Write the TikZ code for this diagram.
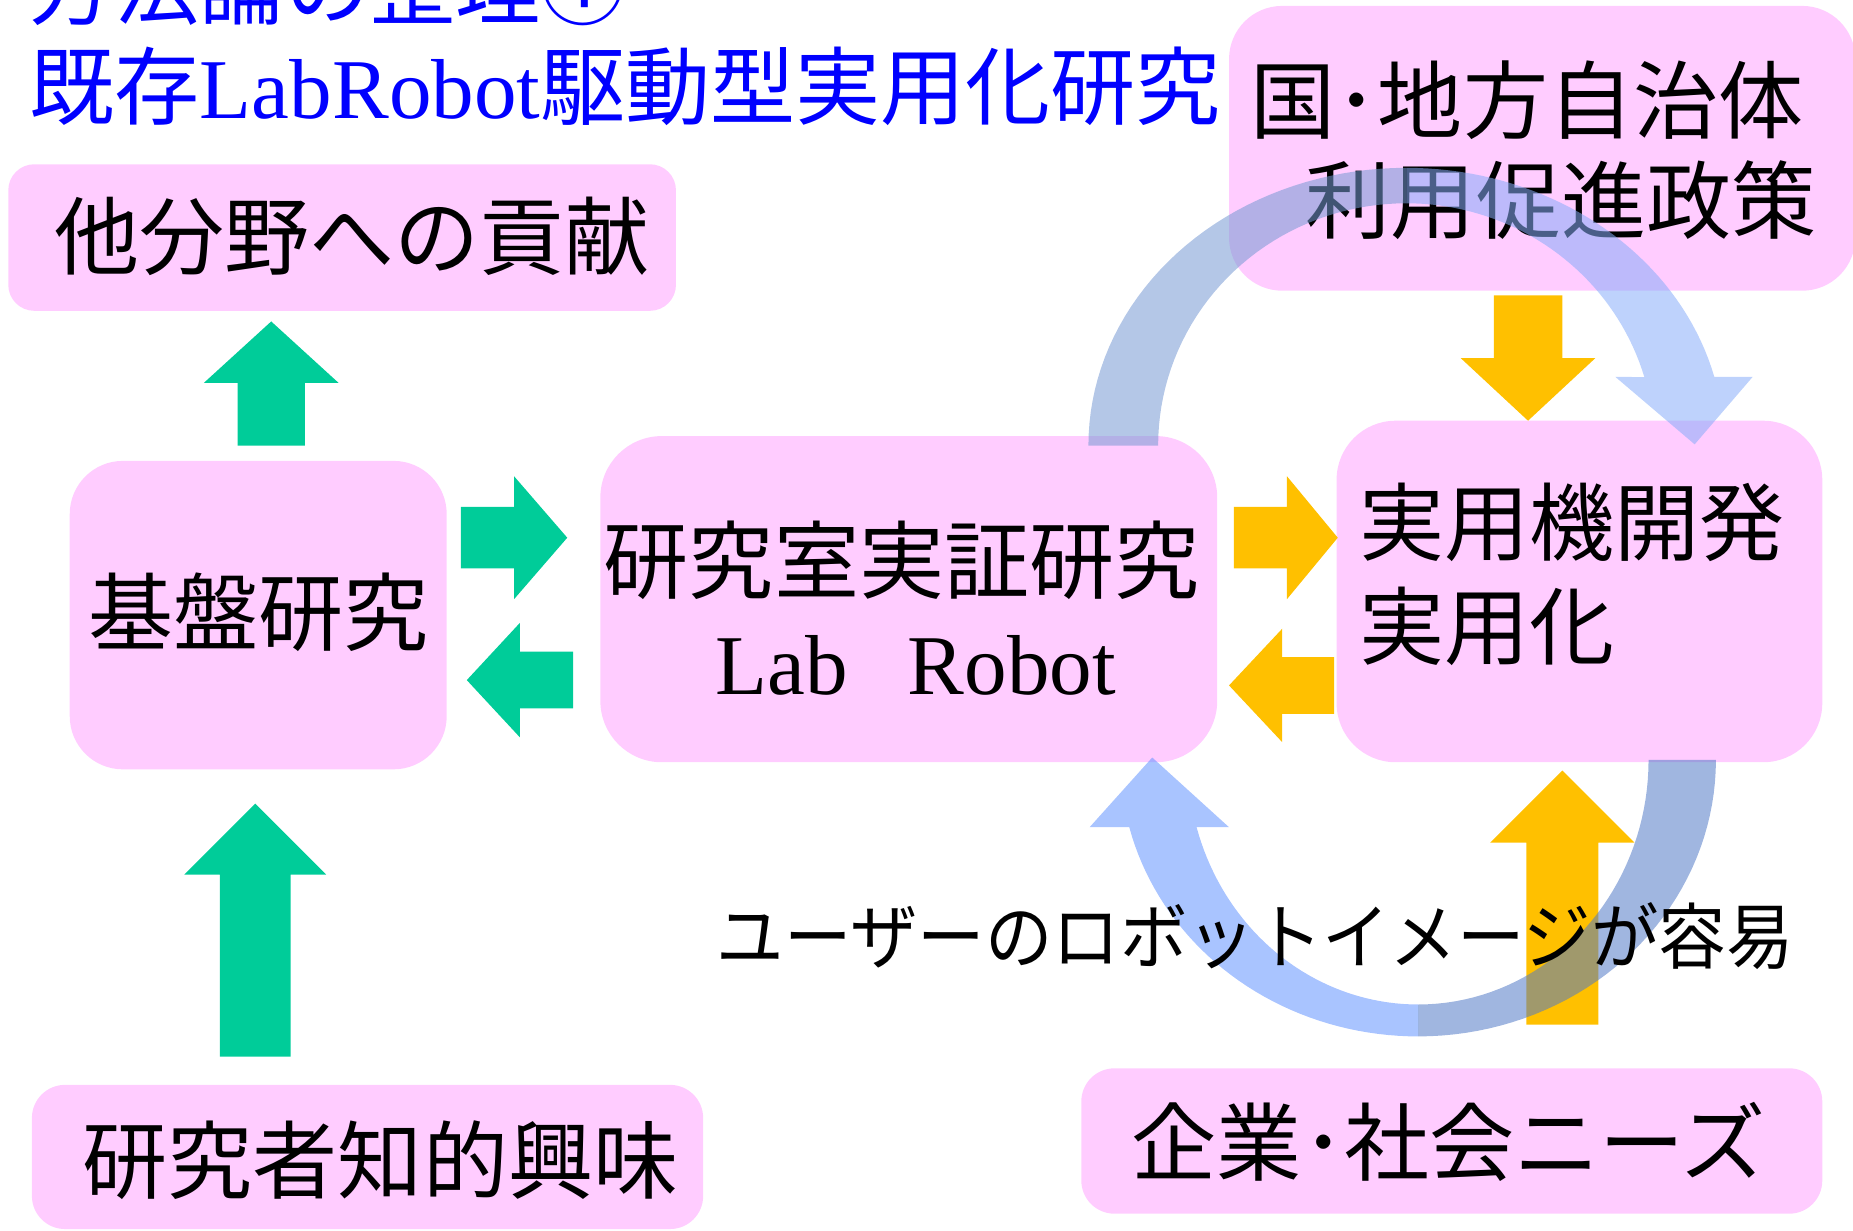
\documentclass[tikz,border=0pt]{standalone}
\usepackage{fontspec}
\usepackage{graphicx}
\usetikzlibrary{calc}
\newfontfamily\jpfont{Noto Sans CJK JP}
\newfontfamily\tmsfont{Liberation Serif}
\definecolor{boxpink}{RGB}{255,204,255}
\definecolor{grn}{RGB}{0,204,153}
\definecolor{org}{RGB}{255,192,0}
\definecolor{arcTL}{RGB}{118,153,211}
\definecolor{arcTR}{RGB}{136,173,249}
\definecolor{arcBL}{RGB}{98,147,255}
\definecolor{arcBR}{RGB}{82,122,198}
\definecolor{ttlblue}{RGB}{0,0,255}
% block arrow: colour, tail, tip, half shaft, half head, head length
\newcommand{\blockarr}[6]{%
  \fill[#1] ($(#2)!#4!90:(#3)$) -- ($(#3)!#6!(#2)!#4!-90:(#2)$)
    -- ($(#3)!#6!(#2)!#5!-90:(#2)$) -- (#3)
    -- ($(#3)!#6!(#2)!#5!90:(#2)$) -- ($(#3)!#6!(#2)!#4!90:(#2)$)
    -- ($(#2)!#4!-90:(#3)$) -- cycle;}
\begin{document}
\begin{tikzpicture}[x=1pt,y=-1pt,
  pinkbox/.style={rectangle, fill=boxpink, draw=none, inner sep=0pt},
  jtxt/.style={inner sep=0pt, anchor=base, font=\jpfont\fontsize{72pt}{86pt}\selectfont},
  ttl/.style={inner sep=0pt, anchor=base west, text=ttlblue, font=\jpfont\fontsize{72pt}{86pt}\selectfont},
  arcfill/.style={fill opacity=0.55}]
\clip (0,0) rectangle (1568,1041);

% title
\node[ttl] (ttl1) at (25,16) {方法論の整理①};
\node[ttl] (ttl2) at (25,100) {既存{\tmsfont LabRobot}駆動型実用化研究};

% boxes
\node[pinkbox, minimum width=565pt, minimum height=124pt, rounded corners=22pt] (koken) at (289.5,201) {};
\node[pinkbox, minimum width=530pt, minimum height=241pt, rounded corners=45pt] (kuni) at (1305,125.5) {};
\node[pinkbox, minimum width=319pt, minimum height=261pt, rounded corners=45pt] (kiban) at (218.5,520.5) {};
\node[pinkbox, minimum width=522pt, minimum height=276pt, rounded corners=52pt] (lab) at (769,507) {};
\node[pinkbox, minimum width=411pt, minimum height=289pt, rounded corners=50pt] (jitsu) at (1336.5,500.5) {};
\node[pinkbox, minimum width=568pt, minimum height=122pt, rounded corners=28pt] (kyomi) at (311,979) {};
\node[pinkbox, minimum width=627pt, minimum height=123pt, rounded corners=28pt] (kigyo) at (1228.5,965.5) {};

% box texts
\node[jtxt] (koken-t) at (298,227) {他分野への貢献};
\node[jtxt] (kuni-t1) at (1292,112) {国･地方自治体};
\node[jtxt] (kuni-t2) at (1321,197) {利用促進政策};
\node[jtxt] (kiban-t) at (219,545) {基盤研究};
\node[jtxt] (lab-t1) at (763,501) {研究室実証研究};
\node[jtxt, font=\tmsfont\fontsize{72pt}{86pt}\selectfont] (lab-t2) at (775,588) {Lab\hspace{0.7em}Robot};
\node[jtxt, anchor=base west] (jitsu-t1) at (1150,469) {実用機開発};
\node[jtxt, anchor=base west] (jitsu-t2) at (1150,557) {実用化};
\node[jtxt] (kyomi-t) at (322,1009) {研究者知的興味};
\node[jtxt] (kigyo-t) at (1226,994) {企業･社会ニーズ};

% block arrow end points
\coordinate (g1a) at (229.5,377); \coordinate (g1b) at (229.5,272);
\coordinate (g2a) at (216,894);   \coordinate (g2b) at (216,680);
\coordinate (g3a) at (390,455);   \coordinate (g3b) at (480,455);
\coordinate (g4a) at (485,575.5); \coordinate (g4b) at (395,575.5);
\coordinate (o1a) at (1044,455);  \coordinate (o1b) at (1132,455);
\coordinate (o2a) at (1129,580);  \coordinate (o2b) at (1040,580);
\coordinate (o3a) at (1293,250);  \coordinate (o3b) at (1293,356);
\coordinate (o4a) at (1322,867);  \coordinate (o4b) at (1322,652);

\blockarr{grn}{g1a}{g1b}{28.5pt}{57pt}{52pt}
\blockarr{grn}{g2a}{g2b}{30pt}{60pt}{60pt}
\blockarr{grn}{g3a}{g3b}{26pt}{52pt}{45pt}
\blockarr{grn}{g4a}{g4b}{24pt}{48.5pt}{45pt}
\blockarr{org}{o1a}{o1b}{26pt}{52pt}{43pt}
\blockarr{org}{o2a}{o2b}{24pt}{48pt}{45pt}
\blockarr{org}{o3a}{o3b}{29pt}{57pt}{53pt}
\blockarr{org}{o4a}{o4b}{30.5pt}{61pt}{61pt}

% curved arrows (top)
\fill[arcTL, arcfill] plot[domain=180:270, samples=40, variable=\t] ({1190+269*cos(\t)},{377+235*sin(\t)})
  -- plot[domain=270:180, samples=40, variable=\t] ({1190+210*cos(\t)},{377+205*sin(\t)}) -- cycle;
\fill[arcTR, arcfill] plot[domain=270:345.71, samples=40, variable=\t] ({1190+269*cos(\t)},{377+235*sin(\t)})
  -- (1483,319) -- (1434,376) -- (1367,319)
  -- plot[domain=343.57:270, samples=40, variable=\t] ({1190+210*cos(\t)},{377+205*sin(\t)}) -- cycle;
% curved arrows (bottom)
\fill[arcBR, arcfill] plot[domain=0:90, samples=40, variable=\t] ({1200+252*cos(\t)},{643+234*sin(\t)})
  -- plot[domain=90:0, samples=40, variable=\t] ({1200+195*cos(\t)},{643+207*sin(\t)}) -- cycle;
\fill[arcBL, arcfill] plot[domain=90:165.9, samples=40, variable=\t] ({1200+252*cos(\t)},{643+234*sin(\t)})
  -- (922,700) -- (975,641) -- (1040,700)
  -- plot[domain=164.02:90, samples=40, variable=\t] ({1200+195*cos(\t)},{643+207*sin(\t)}) -- cycle;

% free text
\node[inner sep=0pt, anchor=base, font=\jpfont\fontsize{61pt}{70pt}\selectfont] (user) at (1062,815)
  {\scalebox{0.936}[1]{ユーザーのロボットイメージが容易}};
\end{tikzpicture}
\end{document}
